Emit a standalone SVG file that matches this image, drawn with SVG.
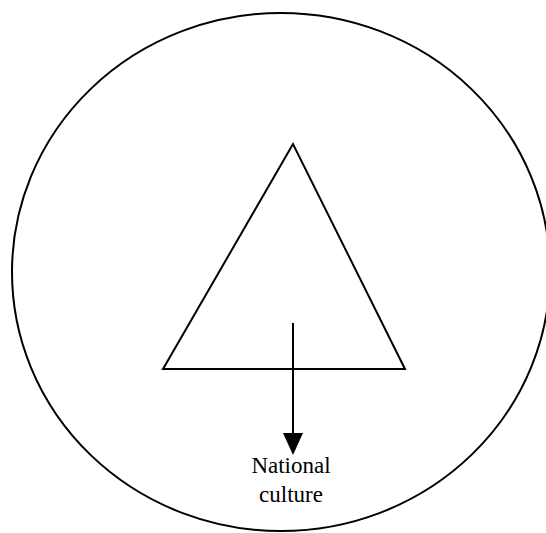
<svg xmlns="http://www.w3.org/2000/svg" width="546" height="533" viewBox="0 0 546 533">
<style>
.ln{fill:none;stroke:#000;stroke-width:2}
.lbl{font-family:"Liberation Serif",serif;font-size:23px;fill:#000;text-anchor:middle}
</style>
<defs>
<marker id="ah" markerWidth="10" markerHeight="10" refX="10" refY="5" orient="auto" markerUnits="userSpaceOnUse" viewBox="0 0 10 10">
<path d="M0,0 L10,5 L0,10 Z" fill="#000"/>
</marker>
</defs>
<rect width="546" height="533" fill="#fff"/>
<g id="circle"><ellipse class="ln" cx="281" cy="272" rx="269" ry="259"/></g>
<g id="triangle"><polygon class="ln" points="293,144 163,369 405,369"/></g>
<g id="connectors">
<line x1="293" y1="323" x2="293" y2="434" stroke="#000" stroke-width="2"/>
<polygon points="283,433 303,433 293,455" fill="#000"/>
</g>
<g id="national-culture">
<text class="lbl" x="291" y="473">National</text>
<text class="lbl" x="291" y="502">culture</text>
</g>
</svg>
